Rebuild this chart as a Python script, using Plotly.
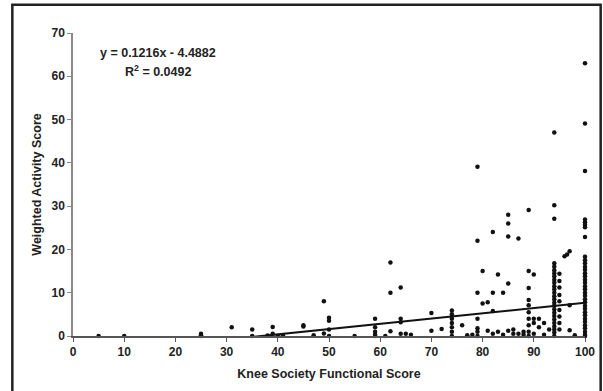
import plotly.graph_objects as go

# Scatter data (Knee Society Functional Score vs Weighted Activity Score)
ksfs = [
    5, 10, 25, 25, 25, 31, 35, 35, 38, 39, 39, 40, 41, 45, 45, 47,
    49, 49, 50, 50, 50, 50, 55, 59, 59, 59, 59, 59, 61, 62, 62, 62,
    64, 64, 64, 64, 65, 66, 70, 70, 72,
    74, 74, 74, 74, 74, 74, 74, 76, 77, 78,
    79, 79, 79, 79, 79, 79, 79, 80, 80, 81, 81,
    82, 82, 82, 82, 83, 83, 84, 84,
    85, 85, 85, 85, 85, 86, 86, 87, 87, 88, 88,
    89, 89, 89, 89, 89, 89, 89, 89, 89, 89,
    90, 90, 90, 90, 91, 91, 92, 92, 93,
    94, 94, 94, 94, 94, 94, 94, 94, 94, 94, 94, 94, 94, 94, 94, 94,
    94, 94, 94, 94, 94, 94, 94, 94, 94, 94,
    95, 95, 95, 95, 95, 95, 95, 95, 95,
    96, 96.5, 97, 97, 97, 98,
    100, 100, 100, 100, 100, 100, 100, 100,
    100, 100, 100, 100, 100, 100, 100, 100, 100, 100, 100, 100, 100,
    100, 100, 100, 100, 100, 100, 100, 100, 100, 100, 100, 100, 100,
]
was = [
    0, 0, 0.5, 0, 0.2, 2.0, 1.5, 0, 0.1, 2.1, 0.5, 0, 0.2, 2.5, 2.2, 0.2,
    8.0, 0.6, 4.2, 3.5, 1.5, 0, 0, 4.0, 2.0, 1.0, 0.3, 0, 0, 17.0, 10.0, 1.1,
    11.2, 4.0, 3.2, 0.5, 0.5, 0.3, 5.3, 1.2, 1.6,
    5.9, 5.0, 4.0, 3.0, 2.0, 1.0, 0, 2.5, 0.2, 0.3,
    39.1, 22.0, 10.0, 4.0, 1.8, 1.0, 0, 15.0, 7.5, 7.8, 1.2,
    24.0, 10.0, 5.8, 0.5, 14.2, 1.0, 10.0, 0.3,
    28.0, 26.0, 23.0, 12.1, 1.2, 0.5, 1.5, 22.5, 0.5, 1.0, 0.3,
    29.1, 15.0, 11.1, 8.3, 7.1, 5.5, 4.0, 2.5, 1.0, 0,
    14.2, 4.0, 3.0, 0.5, 4.0, 2.0, 0.3, 3.0, 1.5,
    47.0, 30.2, 27.1, 16.8, 16.0, 15.2, 14.5, 13.8, 13.0, 12.3, 11.5, 10.8, 10.0, 9.2, 8.5, 7.7,
    7.0, 6.2, 5.4, 4.6, 3.8, 3.0, 2.2, 1.5, 0.8, 0,
    14.4, 12.7, 11.2, 9.5, 8.0, 6.0, 4.5, 3.0, 1.5,
    18.4, 18.8, 19.6, 7.1, 1.3, 0.2,
    63.0, 49.1, 38.1, 26.9, 26.3, 25.7, 25.1, 22.9,
    18.3, 17.5, 16.8, 16.0, 15.3, 14.5, 13.8, 13.0, 12.3, 11.5, 10.8, 10.0, 9.3,
    8.5, 7.8, 7.0, 6.3, 5.5, 4.8, 4.0, 3.3, 2.5, 1.8, 1.0, 0.3, 0,
]

# Linear trendline from the reference
slope = 0.1216
intercept = -4.4882
trend_x = [5, 100]
trend_y = [slope * v + intercept for v in trend_x]

x_ticks = [0, 10, 20, 30, 40, 50, 60, 70, 80, 90, 100]
y_ticks = [0, 10, 20, 30, 40, 50, 60, 70]

FONT = "Liberation Sans, Arial, sans-serif"
TICK = dict(family=FONT, size=12, color="#222222", weight="bold")
TXT = dict(family=FONT, size=12.5, color="#222222", weight="bold")

fig = go.Figure()
fig.add_trace(go.Scatter(
    x=ksfs, y=was, mode="markers",
    marker=dict(symbol="circle", size=4.5, color="#111111"),
    showlegend=False, cliponaxis=False,
))
fig.add_trace(go.Scatter(
    x=trend_x, y=trend_y, mode="lines",
    line=dict(color="#111111", width=2),
    showlegend=False,
))

fig.update_layout(
    width=603, height=391,
    margin=dict(l=73, r=18, t=33, b=55, autoexpand=False),
    paper_bgcolor="white", plot_bgcolor="white",
    font=TXT,
    xaxis=dict(
        range=[0, 100], tickvals=x_ticks, showgrid=False, zeroline=False,
        showline=True, linecolor="#555555", linewidth=1.5,
        ticks="outside", ticklen=4, tickcolor="#555555",
        tickfont=TICK, automargin=False,
        title=dict(text="Knee Society Functional Score", standoff=11, font=TXT),
    ),
    yaxis=dict(
        range=[0, 70], tickvals=y_ticks, showgrid=False, zeroline=False,
        showline=True, linecolor="#888888", linewidth=1.5,
        ticks="outside", ticklen=4, tickcolor="#888888",
        tickfont=TICK, automargin=False,
        title=dict(text="Weighted Activity Score", standoff=7, font=TXT),
    ),
    annotations=[
        dict(xref="x", yref="y", x=16.6, y=65.4, text="y = 0.1216x - 4.4882",
             showarrow=False, font=TXT),
        dict(xref="x", yref="y", x=16.6, y=61.2, text="R<sup>2</sup> = 0.0492",
             showarrow=False, font=TXT),
    ],
    shapes=[
        dict(type="rect", xref="paper", yref="paper",
             x0=-0.1185, x1=1.0306, y0=-0.2, y1=1.0936,
             line=dict(color="#222222", width=2.5), fillcolor="rgba(0,0,0,0)", layer="below"),
    ],
)

fig.write_html(
    "out.html",
    config={"displayModeBar": False},
    post_script="document.body.style.margin='0';document.body.style.overflow='hidden';",
)
